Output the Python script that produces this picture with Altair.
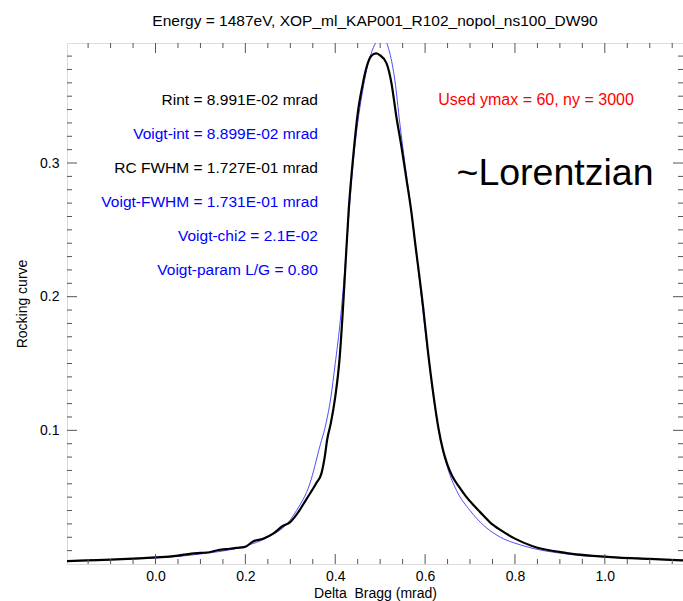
import altair as alt
import pandas as pd

# ---------------- data ----------------
rc_x = [-0.197, -0.15, -0.10, -0.05, 0.0, 0.03, 0.05, 0.08, 0.10, 0.12, 0.14, 0.165, 0.18, 0.199,
        0.217, 0.2395, 0.2617, 0.284, 0.299, 0.3138, 0.336, 0.358, 0.3695, 0.3768, 0.382, 0.39,
        0.40, 0.41, 0.417, 0.423, 0.43, 0.44, 0.45, 0.46, 0.47, 0.48, 0.491, 0.499, 0.514, 0.525,
        0.536, 0.5475, 0.5587, 0.5698, 0.577, 0.596, 0.606, 0.62, 0.63, 0.64, 0.65, 0.66, 0.675,
        0.69, 0.705, 0.722, 0.745, 0.77, 0.80, 0.838, 0.9155, 1.013, 1.10, 1.174]
rc_y = [0.0022, 0.0027, 0.0032, 0.0040, 0.0050, 0.0055, 0.0062, 0.0078, 0.0083, 0.0088, 0.0105,
        0.0114, 0.0120, 0.0127, 0.0169, 0.0189, 0.0227, 0.0286, 0.0311, 0.0369, 0.0486, 0.0606,
        0.068, 0.0805, 0.093, 0.105, 0.125, 0.155, 0.19, 0.225, 0.265, 0.305, 0.337, 0.357, 0.372,
        0.380, 0.382, 0.3808, 0.3747, 0.360, 0.3348, 0.312, 0.2874, 0.2625, 0.2426, 0.191, 0.160,
        0.123, 0.101, 0.085, 0.074, 0.066, 0.058, 0.051, 0.045, 0.039, 0.031, 0.025, 0.019,
        0.0135, 0.0082, 0.0052, 0.0038, 0.0027]

fit_x = [-0.197, -0.10, 0.0, 0.10, 0.20, 0.25, 0.30, 0.3138, 0.3434, 0.3657, 0.38, 0.39, 0.40,
         0.41, 0.42, 0.43, 0.44, 0.45, 0.46, 0.47, 0.48, 0.49, 0.50, 0.51, 0.5215, 0.5326, 0.5437,
         0.555, 0.566, 0.5733, 0.59, 0.60, 0.61, 0.62, 0.635, 0.65, 0.67, 0.70, 0.73, 0.76, 0.82,
         0.9155, 1.0, 1.174]
fit_y = [0.0025, 0.0033, 0.0045, 0.0075, 0.0135, 0.020, 0.0330, 0.0400, 0.060, 0.088, 0.106,
         0.124, 0.150, 0.178, 0.215, 0.260, 0.300, 0.330, 0.352, 0.370, 0.382, 0.390, 0.394,
         0.3925, 0.3822, 0.3622, 0.3298, 0.300, 0.2725, 0.2525, 0.205, 0.175, 0.148, 0.122, 0.092,
         0.072, 0.055, 0.040, 0.029, 0.0215, 0.0135, 0.0075, 0.0052, 0.0028]

x_major = [0.0, 0.2, 0.4, 0.6, 0.8, 1.0]
x_minor = [-0.15, -0.10, -0.05, 0.05, 0.10, 0.15, 0.25, 0.30, 0.35, 0.45, 0.50, 0.55,
           0.65, 0.70, 0.75, 0.85, 0.90, 0.95, 1.05, 1.10, 1.15]
y_major = [0.1, 0.2, 0.3]
y_minor = [0.01, 0.02, 0.03, 0.04, 0.05, 0.06, 0.07, 0.08, 0.09,
           0.11, 0.12, 0.13, 0.14, 0.15, 0.16, 0.17, 0.18, 0.19,
           0.21, 0.22, 0.23, 0.24, 0.25, 0.26, 0.27, 0.28, 0.29,
           0.31, 0.32, 0.33, 0.34, 0.35, 0.36, 0.37, 0.38]

info_texts = ["Rint = 8.991E-02 mrad", "Voigt-int = 8.899E-02 mrad", "RC FWHM = 1.727E-01 mrad",
              "Voigt-FWHM = 1.731E-01 mrad", "Voigt-chi2 = 2.1E-02", "Voigt-param L/G = 0.80"]
info_colors = ["black", "blue", "black", "blue", "blue", "blue"]
red_text = "Used ymax = 60, ny = 3000"
big_text = "~Lorentzian"
title_text = "Energy = 1487eV, XOP_ml_KAP001_R102_nopol_ns100_DW90"

# ---------------- layout ----------------
FONT = "Liberation Sans"
FS = 14
W, H = 616, 521
AX = "#555555"
xs = alt.Scale(domain=[-0.197, 1.174], nice=False, zero=False)
ys = alt.Scale(domain=[0.0, 0.3898], nice=False, zero=False)

df_rc = pd.DataFrame({"x": rc_x, "y": rc_y})
df_fit = pd.DataFrame({"x": fit_x, "y": fit_y})

x_axis = alt.Axis(values=x_major, format=".1f", ticks=False, domain=False, grid=False,
                  labelFont=FONT, labelFontSize=FS, labelColor="black", labelPadding=5,
                  title="Delta\u00a0 Bragg (mrad)", titleFont=FONT, titleFontSize=FS,
                  titleFontWeight="normal", titleColor="black", titlePadding=3)
y_axis = alt.Axis(values=y_major, format=".1f", ticks=False, domain=False, grid=False,
                  labelFont=FONT, labelFontSize=FS, labelColor="black", labelPadding=8,
                  title="Rocking curve", titleFont=FONT, titleFontSize=FS,
                  titleFontWeight="normal", titleColor="black", titlePadding=10)


def X(field):
    return alt.X(field, scale=xs, axis=x_axis)


def Y(field):
    return alt.Y(field, scale=ys, axis=y_axis)


fit_line = alt.Chart(df_fit).mark_line(color="#3a3aff", strokeWidth=0.9, clip=True,
                                       interpolate="monotone").encode(x=X("x:Q"), y=Y("y:Q"))
rc_line = alt.Chart(df_rc).mark_line(color="black", strokeWidth=2.2, clip=True,
                                     interpolate="monotone").encode(x=X("x:Q"), y=Y("y:Q"))

layers = [fit_line, rc_line]


def xticks(vals, length):
    d = pd.DataFrame({"v": vals})
    bot = alt.Chart(d).mark_rule(color=AX, strokeWidth=1).encode(
        x=X("v:Q"), y=alt.value(H), y2=alt.value(H - length))
    top = alt.Chart(d).mark_rule(color=AX, strokeWidth=1).encode(
        x=X("v:Q"), y=alt.value(0), y2=alt.value(length))
    return [bot, top]


def yticks(vals, length):
    d = pd.DataFrame({"v": vals})
    left = alt.Chart(d).mark_rule(color=AX, strokeWidth=1).encode(
        y=Y("v:Q"), x=alt.value(0), x2=alt.value(length))
    right = alt.Chart(d).mark_rule(color=AX, strokeWidth=1).encode(
        y=Y("v:Q"), x=alt.value(W), x2=alt.value(W - length))
    return [left, right]


layers += xticks(x_major, 10) + xticks(x_minor, 5) + yticks(y_major, 10) + yticks(y_minor, 5)

dummy = pd.DataFrame({"a": [0]})
for i, (t, c) in enumerate(zip(info_texts, info_colors)):
    layers.append(alt.Chart(dummy).mark_text(align="right", baseline="middle", font=FONT,
                                             fontSize=15.5, color=c, text=t).encode(
        x=alt.value(251), y=alt.value(57 + 34 * i)))
layers.append(alt.Chart(dummy).mark_text(align="center", baseline="middle", font=FONT,
                                         fontSize=16, color="red", text=red_text).encode(
    x=alt.value(469), y=alt.value(57)))
layers.append(alt.Chart(dummy).mark_text(align="center", baseline="middle", font=FONT,
                                         fontSize=37.5, color="black", text=big_text).encode(
    x=alt.value(488), y=alt.value(131)))

chart = alt.layer(*layers).properties(
    width=W, height=H,
    title=alt.TitleParams(title_text, font=FONT, fontSize=15.5, fontWeight="normal",
                          color="black", anchor="middle", offset=13),
    padding={"left": 67, "top": 43, "right": 0, "bottom": 37},
    autosize="none",
).configure_view(stroke=AX, strokeWidth=1.2).configure(background="white")

chart.save("out.html", embed_options={"renderer": "svg", "actions": False})
